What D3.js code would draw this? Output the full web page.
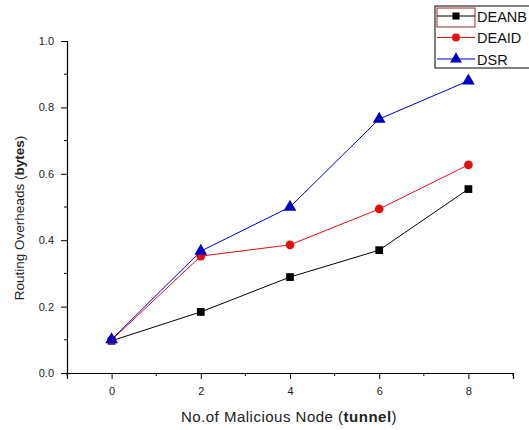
<!DOCTYPE html>
<html>
<head>
<meta charset="utf-8">
<script src="https://cdn.jsdelivr.net/npm/d3@7"></script>
<style>
  body { margin: 0; background: #fff; }
  text { font-family: Arial, "Liberation Sans", sans-serif; }
</style>
</head>
<body>
<div id="chart"></div>
<script>
const nodes = [0, 2, 4, 6, 8];
const deanb = [0.097, 0.184, 0.289, 0.37, 0.554];
const deaid = [0.099, 0.352, 0.386, 0.494, 0.627];
const dsr = [0.101, 0.367, 0.5, 0.765, 0.88];
const xTicks = [0, 2, 4, 6, 8];
const yTicks = [0.0, 0.2, 0.4, 0.6, 0.8, 1.0];

const series = [
  { name: "DEANB", values: deanb, color: "#000", shape: d3.symbolSquare },
  { name: "DEAID", values: deaid, color: "#e01010", shape: d3.symbolCircle },
  { name: "DSR", values: dsr, color: "#0000c0", shape: d3.symbolTriangle }
];

const svg = d3.select("#chart").append("svg")
  .attr("width", 529).attr("height", 430);

const x = d3.scaleLinear().domain([-1, 9]).range([67, 513]);
const y = d3.scaleLinear().domain([0, 1]).range([373, 41]);

// x axis
const xAxis = svg.append("g").attr("transform", "translate(0,373)");
xAxis.call(d3.axisBottom(x).tickValues(xTicks).tickSize(6).tickPadding(8).tickFormat(d3.format("d")));
xAxis.append("g").selectAll("line")
  .data(d3.range(-1, 10, 2))
  .join("line")
  .attr("x1", (d) => x(d)).attr("x2", (d) => x(d))
  .attr("y1", 0).attr("y2", 3).attr("stroke", "#000");

// y axis
const yAxis = svg.append("g").attr("transform", "translate(67,0)");
yAxis.call(d3.axisLeft(y).tickValues(yTicks).tickSize(6).tickPadding(7).tickFormat(d3.format(".1f")));
yAxis.append("g").selectAll("line")
  .data(d3.range(0.1, 1, 0.2))
  .join("line")
  .attr("y1", (d) => y(d)).attr("y2", (d) => y(d))
  .attr("x1", 0).attr("x2", -3).attr("stroke", "#000");

svg.selectAll(".domain").attr("stroke", "#000").attr("stroke-width", 1.2);
svg.selectAll(".tick text").attr("font-size", 11).attr("fill", "#222")
  .attr("font-family", "Arial, 'Liberation Sans', sans-serif");

// axis titles
const yt = svg.append("text")
  .attr("transform", "translate(24,218) rotate(-90)")
  .attr("text-anchor", "middle").attr("font-size", 13.5).attr("fill", "#222");
yt.append("tspan").text("Routing Overheads (");
yt.append("tspan").attr("font-weight", "bold").text("bytes");
yt.append("tspan").text(")");

const xt = svg.append("text")
  .attr("x", 289).attr("y", 422)
  .attr("text-anchor", "middle").attr("font-size", 15)
  .attr("letter-spacing", 0.5).attr("fill", "#222");
xt.append("tspan").text("No.of Malicious Node (");
xt.append("tspan").attr("font-weight", "bold").text("tunnel");
xt.append("tspan").text(")");

// lines and markers
const line = d3.line().x((d) => x(d[0])).y((d) => y(d[1]));
series.forEach((s) => {
  const pts = nodes.map((n, i) => [n, s.values[i]]);
  svg.append("path").datum(pts)
    .attr("d", line).attr("fill", "none")
    .attr("stroke", s.color).attr("stroke-width", 1);
  svg.append("g").selectAll("path")
    .data(pts)
    .join("path")
    .attr("transform", (d) => `translate(${x(d[0])},${y(d[1])})`)
    .attr("d", d3.symbol().type(s.shape).size(s.shape === d3.symbolTriangle ? 70 : 60))
    .attr("fill", s.color);
});

// legend (box runs off the right edge, as in the original)
const legend = svg.append("g").attr("transform", "translate(435,6)");
legend.append("rect").attr("x", 0).attr("y", 0).attr("width", 110).attr("height", 62)
  .attr("fill", "#fff").attr("stroke", "#000").attr("stroke-width", 1);
legend.append("rect").attr("x", 2).attr("y", 2).attr("width", 38).attr("height", 19)
  .attr("fill", "none").attr("stroke", "#9b2a2a").attr("stroke-width", 1);
series.forEach((s, i) => {
  const g = legend.append("g").attr("transform", `translate(0,${10 + i * 21.5})`);
  g.append("line").attr("x1", 2).attr("x2", 40).attr("stroke", s.color).attr("stroke-width", 1.2);
  g.append("path").attr("transform", "translate(21,0)")
    .attr("d", d3.symbol().type(s.shape).size(s.shape === d3.symbolTriangle ? 60 : 50))
    .attr("fill", s.color);
  g.append("text").attr("x", 42).attr("y", 5.5).attr("font-size", 14.5).attr("fill", "#111").text(s.name);
});
</script>
</body>
</html>
